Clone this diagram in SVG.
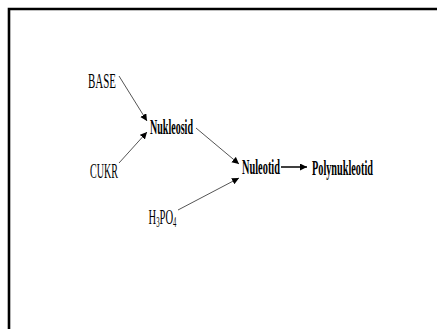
<svg xmlns="http://www.w3.org/2000/svg" width="437" height="329" viewBox="0 0 437 329">
<defs>
<style>
.t{font-family:"Liberation Serif","Times New Roman",serif;font-size:22px;fill:#000}
.s{font-size:14px}
.b{font-weight:bold}
.c{stroke:#555;stroke-width:1;fill:none}
.k{stroke:#000;stroke-width:1.5;fill:none}
</style>
<marker id="ah" markerUnits="userSpaceOnUse" markerWidth="8" markerHeight="8" refX="7" refY="3.5" orient="auto">
<path d="M0,0 L7,3.5 L0,7 Z" fill="#000"/>
</marker>
</defs>
<rect width="437" height="329" fill="#fff"/>
<path d="M9,329 V9 H437" stroke="#000" stroke-width="2.6" fill="none"/>
<g id="connectors">
<line class="c" x1="119" y1="76" x2="147" y2="121" marker-end="url(#ah)"/>
<line class="c" x1="119" y1="163" x2="147" y2="132" marker-end="url(#ah)"/>
<line class="c" x1="196" y1="128" x2="239" y2="164" marker-end="url(#ah)"/>
<line class="c" x1="178" y1="210" x2="239" y2="178" marker-end="url(#ah)"/>
<line class="k" x1="281" y1="167" x2="307" y2="167" marker-end="url(#ah)"/>
</g>
<g id="base" transform="translate(88,88) scale(0.498,1)"><text class="t" x="0" y="0">BASE</text></g>
<g id="cukr" transform="translate(90,178) scale(0.458,1)"><text class="t" x="0" y="0">CUKR</text></g>
<g id="nukleosid" transform="translate(150,134) scale(0.457,1)"><text class="t b" x="0" y="0">Nukleosid</text></g>
<g id="h3po4" transform="translate(148.5,224) scale(0.48,1)">
<text class="t" x="0" y="0">H</text>
<text class="t s" x="16" y="3">3</text>
<text class="t" x="23" y="0">PO</text>
<text class="t s" x="51" y="3">4</text>
</g>
<g id="nuleotid" transform="translate(242,174) scale(0.471,1)"><text class="t b" x="0" y="0">Nuleotid</text></g>
<g id="polynukleotid" transform="translate(312,175) scale(0.466,1)"><text class="t b" x="0" y="0">Polynukleotid</text></g>
</svg>
